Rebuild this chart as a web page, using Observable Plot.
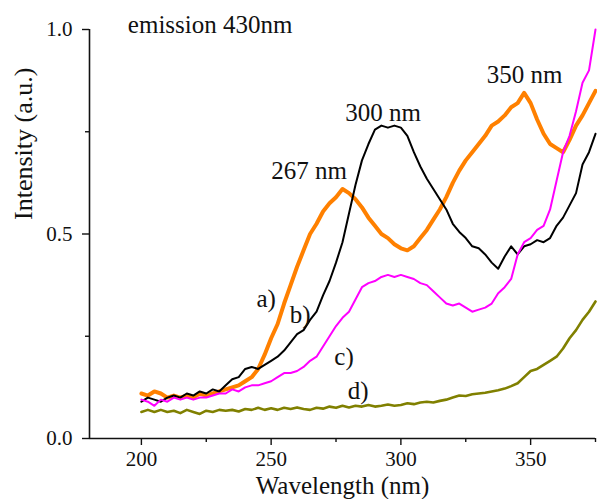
<!DOCTYPE html>
<html>
<head>
<meta charset="utf-8">
<script src="https://cdn.jsdelivr.net/npm/d3@7"></script>
<script src="https://cdn.jsdelivr.net/npm/@observablehq/plot@0.6"></script>
<style>
  html, body { margin: 0; padding: 0; background: #fff; }
  #chart { width: 597px; height: 499px; }
</style>
</head>
<body>
<div id="chart"></div>
<script>
// Wavelength grid (nm)
const wavelength = [200,202.5,205,207.5,210,212.5,215,217.5,220,222.5,
  225,227.5,230,232.5,235,237.5,240,242.5,245,247.5,
  250,252.5,255,257.5,260,262.5,265,267.5,270,272.5,
  275,277.5,280,282.5,285,287.5,290,292.5,295,297.5,
  300,302.5,305,307.5,310,312.5,315,317.5,320,322.5,
  325,327.5,330,332.5,335,337.5,340,342.5,345,347.5,
  350,352.5,355,357.5,360,362.5,365,367.5,370,372.5,375];

// a) orange
const seriesA = [0.11,0.105,0.115,0.11,0.10,0.105,0.10,0.105,0.10,0.11,
  0.105,0.11,0.115,0.12,0.125,0.13,0.14,0.15,0.17,0.205,
  0.245,0.28,0.33,0.375,0.42,0.46,0.50,0.525,0.555,0.575,
  0.59,0.61,0.60,0.585,0.565,0.54,0.52,0.50,0.49,0.475,
  0.465,0.46,0.47,0.49,0.51,0.535,0.56,0.59,0.625,0.655,
  0.68,0.70,0.72,0.74,0.765,0.775,0.79,0.81,0.82,0.845,
  0.82,0.78,0.745,0.72,0.71,0.70,0.73,0.765,0.79,0.82,0.85];

// b) black
const seriesB = [0.09,0.10,0.095,0.09,0.10,0.105,0.10,0.11,0.105,0.115,
  0.11,0.12,0.115,0.13,0.145,0.15,0.17,0.175,0.17,0.18,
  0.19,0.20,0.215,0.235,0.255,0.265,0.29,0.31,0.35,0.385,
  0.43,0.48,0.55,0.62,0.68,0.72,0.755,0.765,0.76,0.765,
  0.76,0.74,0.70,0.665,0.635,0.61,0.585,0.56,0.525,0.505,
  0.49,0.47,0.465,0.45,0.43,0.415,0.445,0.47,0.45,0.47,
  0.475,0.485,0.48,0.49,0.52,0.54,0.57,0.60,0.67,0.70,0.745];

// c) magenta
const seriesC = [0.095,0.09,0.08,0.095,0.09,0.10,0.095,0.10,0.095,0.10,
  0.10,0.105,0.11,0.11,0.12,0.115,0.125,0.13,0.13,0.135,
  0.14,0.15,0.16,0.16,0.165,0.175,0.19,0.20,0.225,0.25,
  0.275,0.295,0.31,0.34,0.37,0.38,0.385,0.395,0.40,0.395,
  0.40,0.395,0.39,0.38,0.375,0.36,0.345,0.33,0.325,0.33,
  0.32,0.31,0.315,0.32,0.33,0.355,0.37,0.39,0.45,0.48,
  0.49,0.51,0.52,0.56,0.63,0.70,0.74,0.80,0.87,0.90,1.0];

// d) olive
const seriesD = [0.065,0.07,0.065,0.07,0.065,0.068,0.062,0.07,0.065,0.06,
  0.068,0.065,0.07,0.068,0.07,0.066,0.072,0.07,0.075,0.07,
  0.074,0.07,0.075,0.072,0.076,0.072,0.07,0.075,0.073,0.078,
  0.075,0.08,0.076,0.08,0.078,0.082,0.078,0.08,0.083,0.08,
  0.082,0.086,0.084,0.088,0.09,0.088,0.092,0.095,0.10,0.105,
  0.104,0.108,0.11,0.112,0.115,0.118,0.122,0.128,0.135,0.15,
  0.165,0.17,0.18,0.19,0.20,0.22,0.245,0.265,0.29,0.31,0.335];

const xMajorTicks = [200, 250, 300, 350];
const xMinorTicks = [225, 275, 325, 375];
const yMajorTicks = [0, 0.5, 1.0];
const yMinorTicks = [0.25, 0.75];

// Annotations (data coordinates)
const annoText = ["emission 430nm", "267 nm", "300 nm", "350 nm", "a)", "b)", "c)", "d)"];
const annoX    = [226.5, 264.6, 293.1, 347.7, 248.1, 261.2, 278.1, 283.5];
const annoY    = [1.01, 0.653, 0.797, 0.888, 0.342, 0.301, 0.200, 0.115];

const xLabel = "Wavelength (nm)";
const yLabel = "Intensity (a.u.)";

const toRows = (vals) => vals.map((v, i) => ({x: wavelength[i], y: v}));
const annos = annoText.map((t, i) => ({text: t, x: annoX[i], y: annoY[i]}));

const serif = "'Liberation Serif', 'Times New Roman', 'DejaVu Serif', serif";

const chart = Plot.plot({
  width: 597,
  height: 499,
  marginLeft: 89,
  marginRight: 2,
  marginTop: 29,
  marginBottom: 61,
  style: {fontFamily: serif, fontSize: "21px", color: "#111", background: "white"},
  x: {domain: [180, 375]},
  y: {domain: [0, 1]},
  marks: [
    Plot.line(toRows(seriesD), {x: "x", y: "y", stroke: "#808000", strokeWidth: 2.6}),
    Plot.line(toRows(seriesA), {x: "x", y: "y", stroke: "#FF8000", strokeWidth: 4}),
    Plot.line(toRows(seriesB), {x: "x", y: "y", stroke: "#000000", strokeWidth: 2}),
    Plot.line(toRows(seriesC), {x: "x", y: "y", stroke: "#FF00FF", strokeWidth: 2}),
    Plot.ruleY([0], {stroke: "#111", strokeWidth: 1.6}),
    Plot.ruleX([180], {stroke: "#111", strokeWidth: 1.6}),
    Plot.axisX({ticks: xMajorTicks, tickSize: 7, tickPadding: 6, tickFormat: d3.format("d"), label: null, strokeWidth: 1.4}),
    Plot.axisX({ticks: xMinorTicks, tickSize: 4, tickFormat: () => "", label: null, strokeWidth: 1.4}),
    Plot.axisY({ticks: yMajorTicks, tickSize: 7, tickPadding: 10, tickFormat: d3.format(".1f"), label: null, strokeWidth: 1.4}),
    Plot.axisY({ticks: yMinorTicks, tickSize: 4, tickFormat: () => "", label: null, strokeWidth: 1.4}),
    Plot.text(annos, {x: "x", y: "y", text: "text", fontSize: 25, fill: "#111", textAnchor: "middle", lineAnchor: "middle"}),
    Plot.text([xLabel], {frameAnchor: "bottom", dy: 47, fontSize: 25, fill: "#111", lineAnchor: "middle"}),
    Plot.text([yLabel], {frameAnchor: "left", rotate: -90, dx: -66, dy: -14, fontSize: 26, fill: "#111", lineAnchor: "middle"})
  ]
});
document.getElementById("chart").appendChild(chart);
</script>
</body>
</html>
